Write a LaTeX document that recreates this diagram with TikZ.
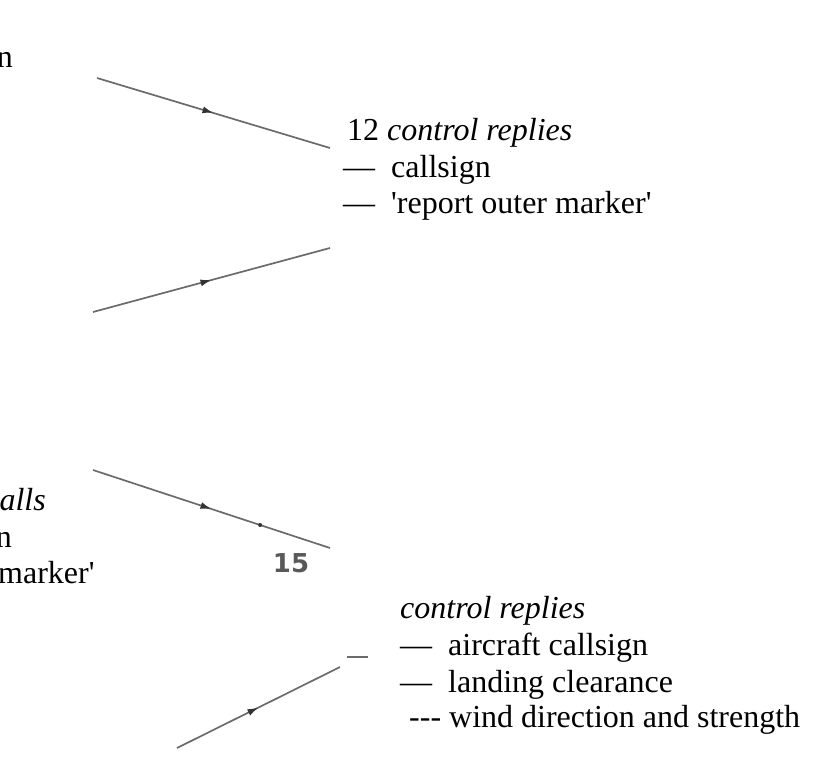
\documentclass[tikz,border=0pt]{standalone}
\usepackage{fontspec}
\setmainfont{Liberation Serif}[Ligatures=TeXOff]
\newfontfamily\rwyfont{DejaVu Sans}
\usetikzlibrary{arrows.meta, decorations.markings}
\definecolor{legcol}{gray}{0.42}
\definecolor{tipcol}{gray}{0.2}

\begin{document}
\begin{tikzpicture}[x=1pt, y=-1pt,
    leg/.style={draw=legcol, line width=1.7pt, postaction={decorate},
      decoration={markings, mark=at position 0.5 with {\arrow[tipcol]{Latex[length=11pt, width=7pt]}}}},
    msg/.style={anchor=base west, inner sep=0pt, font=\fontsize{32}{37}\selectfont},
    cut/.style={msg, anchor=base east}]
  \useasboundingbox (0,0) rectangle (824,769);
  \clip (0,0) rectangle (824,769);
  % approach legs
  \coordinate (s1) at (97,78);   \coordinate (e1) at (330,148);
  \coordinate (s2) at (93,312);  \coordinate (e2) at (330,248);
  \coordinate (s3) at (93,470);  \coordinate (e3) at (330,548);
  \coordinate (s4) at (177,748); \coordinate (e4) at (340,667);
  \foreach \i in {1,...,4} \draw[leg] (s\i) -- (e\i);
  \path (s3) -- (e3) coordinate[pos=0.705] (tk);
  \fill[tipcol] (tk) circle (2);
  \coordinate (d1) at (347,657); \coordinate (d2) at (368,657);
  \draw[legcol, line width=2pt] (d1) -- (d2);
  \node[text=black!65, font=\rwyfont\bfseries\fontsize{26}{30}\selectfont] (rwy) at (291,563) {15};

  % radio calls
  \node[msg] (r1) at (347,140) {12 \textit{control replies}};
  \node[msg] (r2) at (343,177) {—\enspace callsign};
  \node[msg] (r3) at (343,213) {—\enspace 'report outer marker'};
  \node[msg] (q1) at (400,618) {\textit{control replies}};
  \node[msg] (q2) at (400,655) {—\enspace aircraft callsign};
  \node[msg] (q3) at (400,692) {—\enspace landing clearance};
  \node[msg] (q4) at (409,727) {---\ wind direction and strength};

  % cut-off text at the left edge
  \node[cut] (p1) at (13,67) {n};
  \node[cut] (c1) at (46,510) {\textit{alls}};
  \node[cut] (c2) at (12,547) {n};
  \node[msg] (c3) at (-2,583) {marker'};
\end{tikzpicture}
\end{document}
